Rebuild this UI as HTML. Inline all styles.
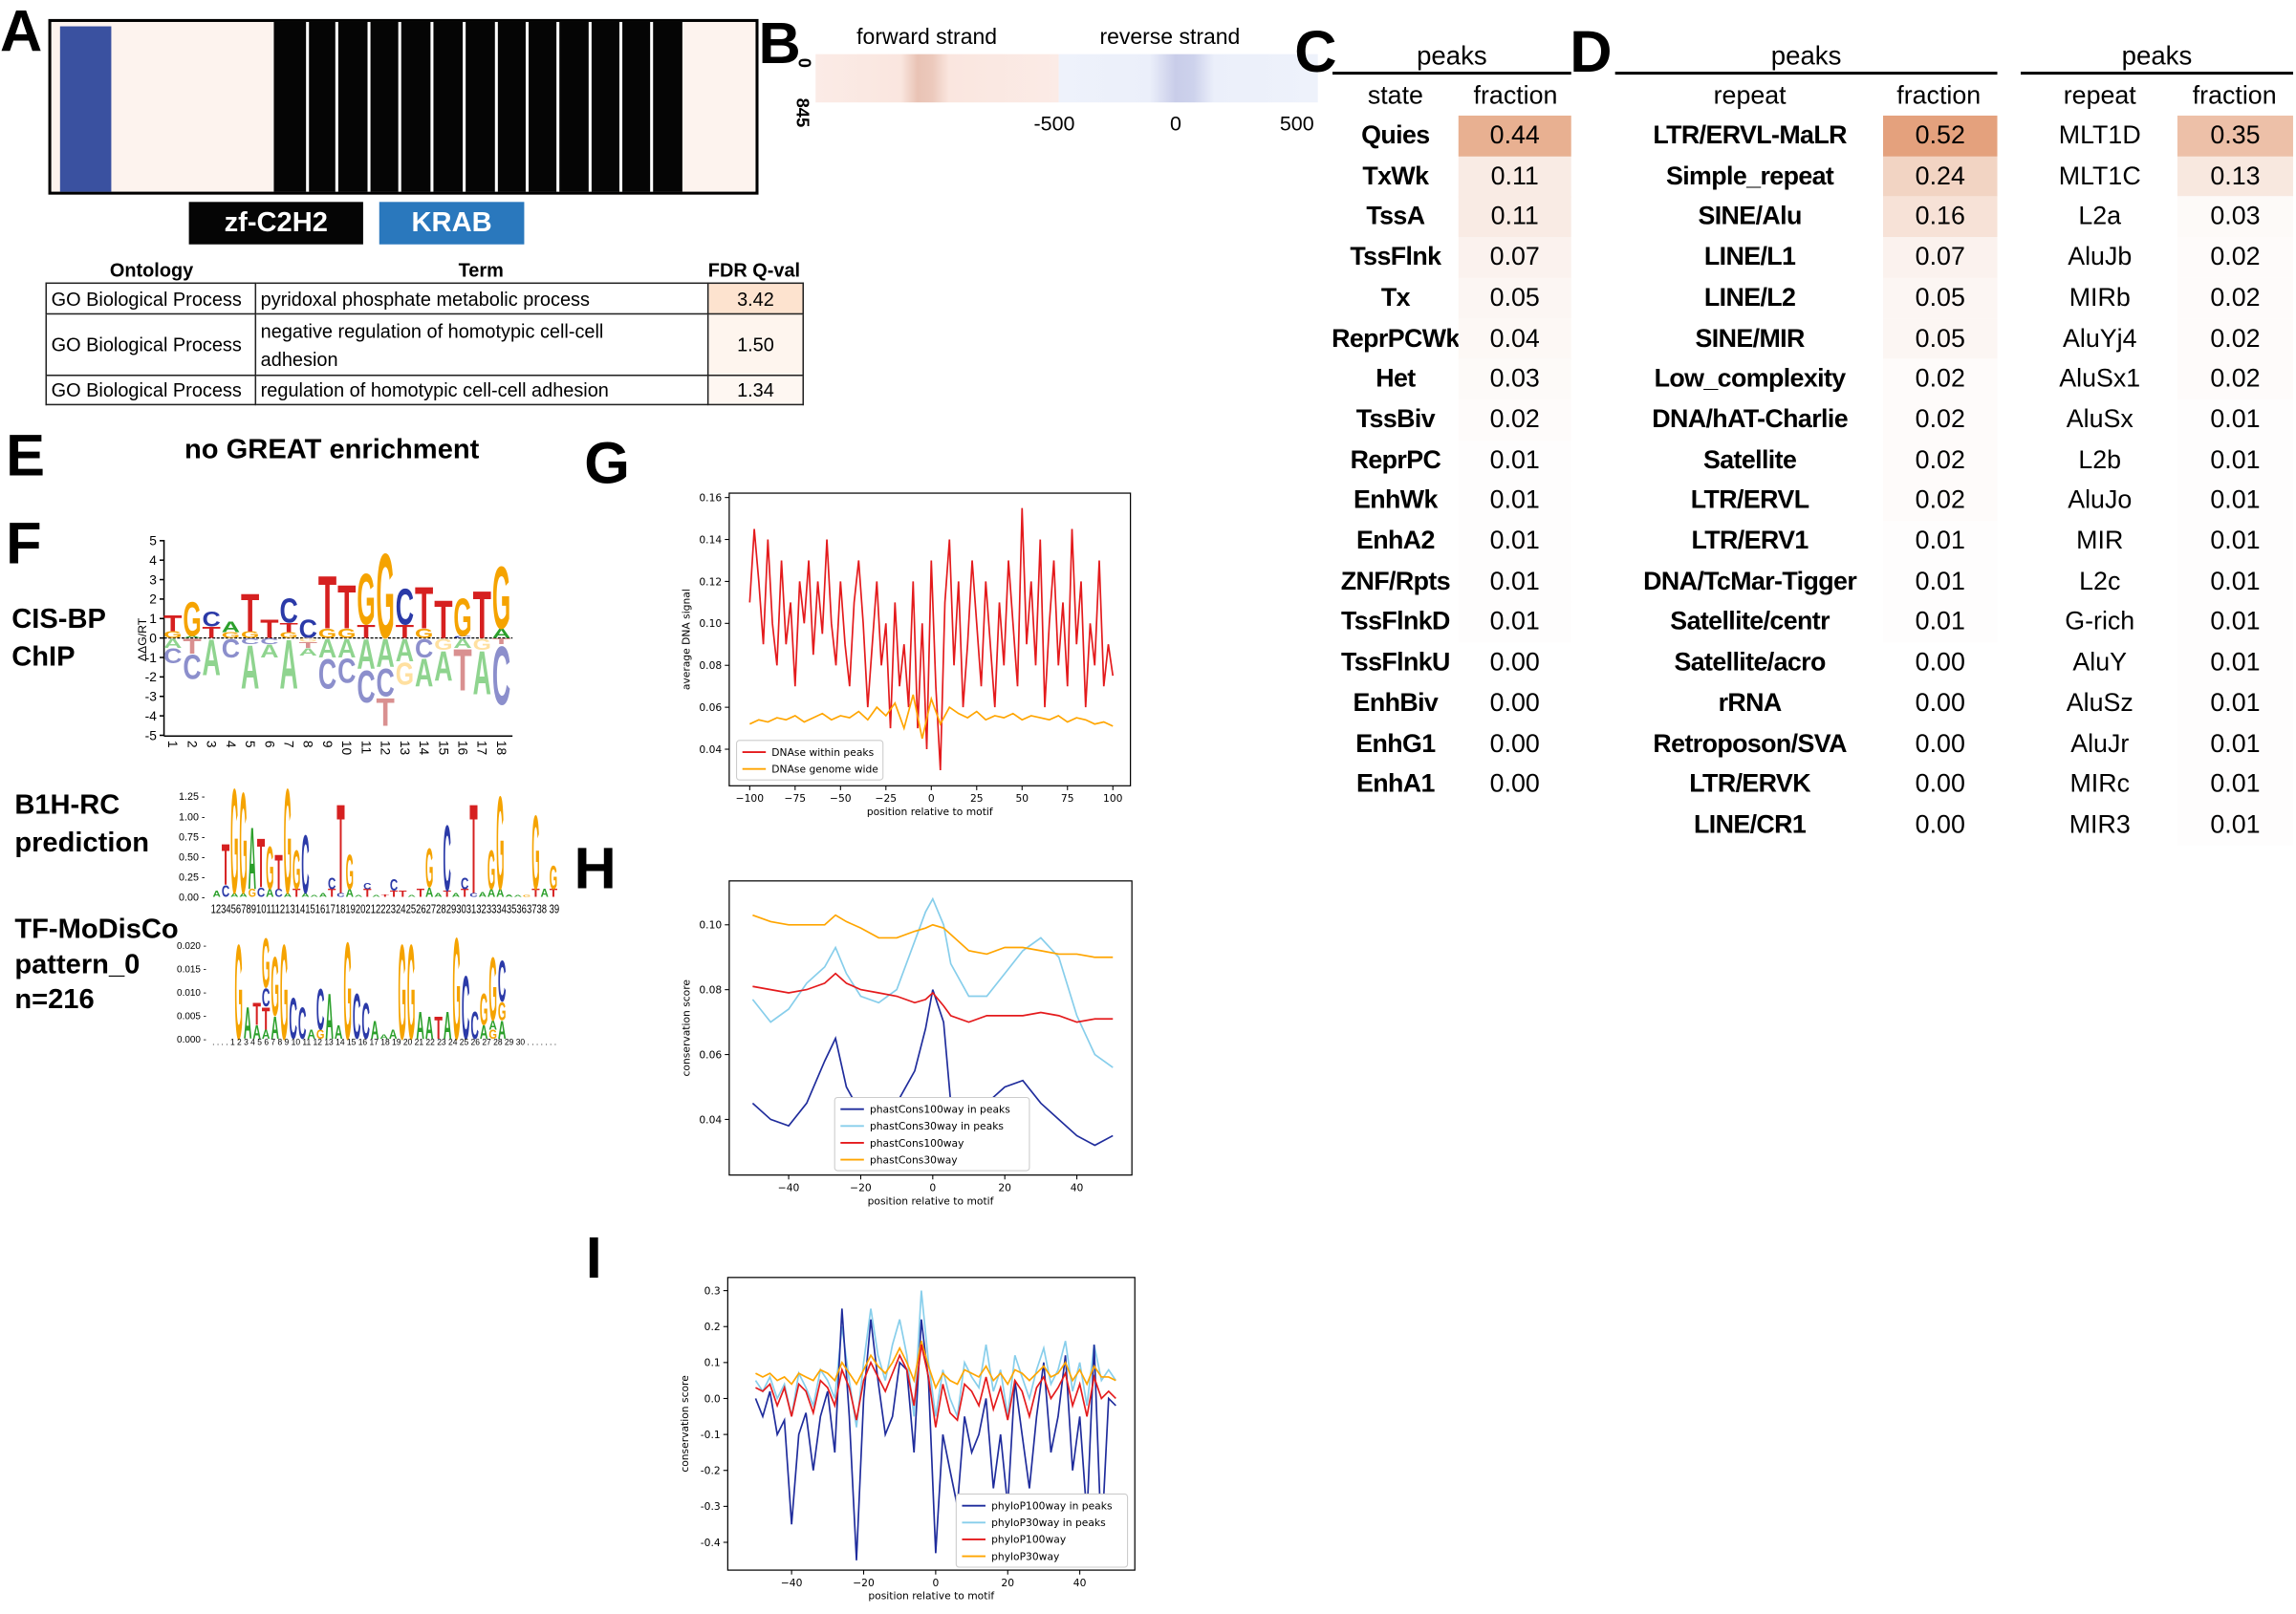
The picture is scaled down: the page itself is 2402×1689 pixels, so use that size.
<!DOCTYPE html>
<html><head><meta charset="utf-8">
<style>
html,body{margin:0;padding:0;background:#fff;}
body{width:2402px;height:1689px;overflow:hidden;position:relative;}
#stage{position:absolute;left:0;top:0;width:1568px;height:1103px;transform:scale(1.5319,1.5313);transform-origin:0 0;font-family:"Liberation Sans",sans-serif;color:#000;}
.abs{position:absolute;}
.plab{position:absolute;font-weight:bold;font-size:40px;line-height:40px;}
.b{font-weight:bold;}
.cell{position:absolute;text-align:center;font-size:17.5px;line-height:27px;height:27px;white-space:nowrap;}
table.go{position:absolute;left:31px;top:193px;border-collapse:collapse;font-size:13px;}
table.go td{border:1.5px solid #222;padding:0 3px;line-height:19px;}
</style></head>
<body>
<div id="stage">

<!-- Panel A -->
<div class="plab" style="left:0;top:2px;">A</div>
<div class="abs" style="left:33px;top:13px;width:481px;height:116px;border:2px solid #000;background:#fdf3ee;">
  <div class="abs" style="left:6px;top:3px;width:35px;height:113px;background:#3a51a0;"></div>
  <div id="zfbox" class="abs" style="left:152px;top:0;width:279px;height:116px;background:#050505;"></div>
</div>
<div class="abs b" style="left:129px;top:138px;width:119px;height:29px;background:#050505;color:#fff;font-size:19px;line-height:29px;text-align:center;">zf-C2H2</div>
<div class="abs b" style="left:259px;top:138px;width:99px;height:29px;background:#2a78bd;color:#fff;font-size:19px;line-height:29px;text-align:center;">KRAB</div>
<div class="abs b" style="left:31px;top:177px;width:145px;text-align:center;font-size:13px;">Ontology</div>
<div class="abs b" style="left:175px;top:177px;width:307px;text-align:center;font-size:13px;">Term</div>
<div class="abs b" style="left:482px;top:177px;width:66px;text-align:center;font-size:13px;">FDR Q-val</div>
<table class="go">
<tr style="height:21px"><td style="width:136px">GO Biological Process</td><td style="width:302px">pyridoxal phosphate metabolic process</td><td style="width:58px;text-align:center;background:#fde3cf">3.42</td></tr>
<tr style="height:42px"><td>GO Biological Process</td><td>negative regulation of homotypic cell-cell<br>adhesion</td><td style="text-align:center;background:#fef5ee">1.50</td></tr>
<tr style="height:20px"><td>GO Biological Process</td><td>regulation of homotypic cell-cell adhesion</td><td style="text-align:center;background:#fef7f2">1.34</td></tr>
</table>

<!-- Panel B -->
<div class="plab" style="left:518px;top:10px;">B</div>
<div class="abs" style="left:585px;top:17px;font-size:15px;">forward strand</div>
<div class="abs" style="left:751px;top:17px;font-size:15px;">reverse strand</div>
<div class="abs" style="left:557px;top:37px;width:166px;height:33px;background:linear-gradient(90deg,#fbebe6 0%,#fae6df 35%,#e9c3b5 42%,#ecc9bc 48%,#fae6df 55%,#fbebe6 100%);"></div>
<div class="abs" style="left:723px;top:37px;width:177px;height:33px;background:linear-gradient(90deg,#eef2fb 0%,#ebeffa 35%,#c9cde9 45%,#cdd2ec 52%,#ebeffa 60%,#eef2fb 100%);"></div>
<div class="abs b" style="left:546px;top:36px;font-size:12px;transform:rotate(90deg);">0</div>
<div class="abs b" style="left:538px;top:70px;font-size:12px;transform:rotate(90deg);">845</div>
<div class="abs" style="left:706px;top:76px;font-size:14px;">-500</div>
<div class="abs" style="left:799px;top:76px;font-size:14px;">0</div>
<div class="abs" style="left:874px;top:76px;font-size:14px;">500</div>

<!-- Panel C / D -->
<div class="plab" style="left:884px;top:16px;">C</div>
<div class="plab" style="left:1072px;top:16px;">D</div>
<div id="tables"></div>

<!-- Panel E -->
<div class="plab" style="left:4px;top:292px;">E</div>
<div class="abs b" style="left:126px;top:297px;font-size:19px;">no GREAT enrichment</div>

<!-- Panel F -->
<div class="plab" style="left:4px;top:352px;">F</div>
<div class="abs b" style="left:8px;top:411px;font-size:19px;line-height:26px;">CIS-BP<br>ChIP</div>
<div class="abs b" style="left:10px;top:538px;font-size:19px;line-height:26px;">B1H-RC<br>prediction</div>
<div class="abs b" style="left:10px;top:624px;font-size:19px;line-height:24px;">TF-MoDisCo<br>pattern_0<br>n=216</div>
<svg id="logos" class="abs" style="left:0;top:0" width="600" height="740"></svg>

<!-- Panels G H I -->
<div class="plab" style="left:399px;top:297px;">G</div>
<div class="plab" style="left:392px;top:574px;">H</div>
<div class="plab" style="left:400px;top:840px;">I</div>
<svg id="charts" class="abs" style="left:0;top:0" width="1568" height="1103"></svg>
</div>

<script>
// ---------- Panel C/D table data ----------
const cStates=["Quies","TxWk","TssA","TssFlnk","Tx","ReprPCWk","Het","TssBiv","ReprPC","EnhWk","EnhA2","ZNF/Rpts","TssFlnkD","TssFlnkU","EnhBiv","EnhG1","EnhA1"];
const cFrac=[0.44,0.11,0.11,0.07,0.05,0.04,0.03,0.02,0.01,0.01,0.01,0.01,0.01,0.00,0.00,0.00,0.00];
const dRepeats1=["LTR/ERVL-MaLR","Simple_repeat","SINE/Alu","LINE/L1","LINE/L2","SINE/MIR","Low_complexity","DNA/hAT-Charlie","Satellite","LTR/ERVL","LTR/ERV1","DNA/TcMar-Tigger","Satellite/centr","Satellite/acro","rRNA","Retroposon/SVA","LTR/ERVK","LINE/CR1"];
const dFrac1=[0.52,0.24,0.16,0.07,0.05,0.05,0.02,0.02,0.02,0.02,0.01,0.01,0.01,0.00,0.00,0.00,0.00,0.00];
const dRepeats2=["MLT1D","MLT1C","L2a","AluJb","MIRb","AluYj4","AluSx1","AluSx","L2b","AluJo","MIR","L2c","G-rich","AluY","AluSz","AluJr","MIRc","MIR3"];
const dFrac2=[0.35,0.13,0.03,0.02,0.02,0.02,0.02,0.01,0.01,0.01,0.01,0.01,0.01,0.01,0.01,0.01,0.01,0.01];

function heat(v){const t=Math.min(v/0.55,1);const r=Math.round(255-(255-226)*t),g=Math.round(255-(255-156)*t),b=Math.round(255-(255-118)*t);return `rgb(${r},${g},${b})`;}
const T=document.getElementById('tables');
function mkTable(names,vals,lineX0,lineX1,nameCx,valCx,cellX0,cellX1,nameBold,colHead,tag){
  const peaks=document.createElement('div');peaks.className='abs';
  peaks.style.cssText=`left:${lineX0}px;top:27px;width:${lineX1-lineX0}px;text-align:center;font-size:18px;border-bottom:2px solid #000;height:22px;line-height:22px;`;
  peaks.textContent='peaks';
  
  
  T.appendChild(peaks);
  [[colHead,nameCx],['fraction',valCx]].forEach(([txt,cx])=>{const h=document.createElement('div');h.className='cell';h.style.left=(cx-70)+'px';h.style.width='140px';h.style.top='52px';h.textContent=txt;
    
    
    T.appendChild(h);});
  names.forEach((n,i)=>{const y=79+i*27.7;
    const a=document.createElement('div');a.className='cell';a.style.left=(nameCx-90)+'px';a.style.width='180px';a.style.top=y+'px';a.style.fontWeight=nameBold?'bold':'normal';a.style.letterSpacing=nameBold?'-0.4px':'0';a.textContent=n;
    
    
    T.appendChild(a);
    const c=document.createElement('div');c.className='cell';c.style.left=cellX0+'px';c.style.width=(cellX1-cellX0)+'px';c.style.top=y+'px';c.style.height='28px';c.style.background=heat(vals[i]);c.textContent=vals[i].toFixed(2);
    
    
    T.appendChild(c);});
}
mkTable(cStates,cFrac,910,1073,953,1035,996,1073,true,'state','chromatin-state');
mkTable(dRepeats1,dFrac1,1103,1364,1195,1324,1286,1364,true,'repeat','repeat-family');
mkTable(dRepeats2,dFrac2,1380,1566,1434,1526,1487,1566,false,'repeat','repeat-subfamily');

// zf lines
const zfLines=[209,229,251,272,294,316,338,359,380,402,423,444];
const zb=document.getElementById('zfbox');
zfLines.forEach(x=>{const l=document.createElement('div');l.className='abs';l.style.cssText=`left:${x-187}px;top:0;width:2px;height:116px;background:#fff;`;
 
 
 zb.appendChild(l);});

// ---------- logos ----------
const NS='http://www.w3.org/2000/svg';
const COL={A:'#2ca02c',C:'#2b3aa8',G:'#f5a300',T:'#d62020'};
const COLL={A:'#8fd48f',C:'#8c8fcc',G:'#ffe0a0',T:'#d99090'};
const cisTop=[[['G',.35],['T',.85]],[['A',.1],['G',1.8]],[['T',.6],['C',.8]],[['G',.3],['A',.55]],[['G',.35],['T',2.0]],[['T',1.0]],[['G',.3],['T',.5],['C',1.3]],[['C',1.0]],[['G',.5],['T',2.8]],[['G',.5],['T',2.3]],[['T',.7],['G',2.7]],[['G',4.5]],[['T',.7],['C',1.9]],[['G',.5],['T',2.2]],[['T',2.0]],[['C',.1],['G',2.0]],[['T',2.5]],[['A',.5],['G',3.3]]];
const cisBot=[[['A',.5],['C',.8]],[['T',.8],['C',1.3]],[['A',1.9]],[['C',1.0]],[['C',.3],['A',2.3]],[['C',.3],['A',.7]],[['A',2.6]],[['G',.2],['T',.3],['A',.4]],[['A',1.0],['C',1.6]],[['A',1.0],['C',1.3]],[['A',1.6],['C',1.7]],[['A',1.5],['C',1.5],['T',1.5]],[['A',1.2],['G',1.2]],[['C',1.0],['A',1.5]],[['G',.6],['A',1.6]],[['A',.5],['T',2.2]],[['G',.6],['A',2.3]],[['T',.3],['C',3.1]]];
const b1h=[[['A',.08]],[['C',.15],['T',.53]],[['A',.05],['G',1.35]],[['A',.05],['G',1.3]],[['G',.1],['A',.8]],[['C',.12],['T',.63]],[['A',.1],['G',.55]],[['C',.1],['T',.45]],[['A',.05],['G',1.35]],[['T',.1],['G',.5]],[['A',.05],['C',.75]],[['A',.02]],[['A',.05]],[['T',.1],['C',.15]],[['C',.05],['T',1.15]],[['A',.1],['G',.45]],[['A',.02]],[['T',.1],['C',.08]],[['A',.02]],[['T',.03]],[['T',.08],['C',.15]],[['T',.08]],[['A',.02]],[['T',.1]],[['A',.12],['G',.5]],[['A',.05]],[['T',.08],['C',.85]],[['A',.05]],[['T',.1],['C',.15]],[['C',.05],['T',1.15]],[['A',.06]],[['A',.1],['G',.5]],[['A',.1],['G',1.2]],[['A',.03]],[['A',.02]],[['G',.02]],[['T',.1],['G',.95]],[['A',.1]],[['T',.1],['G',.3]]];
const modisco=[[['G',21]],[['A',7]],[['A',3],['T',5]],[['A',2],['T',5],['C',4],['G',11]],[['A',5],['G',13]],[['G',21]],[['C',9]],[['C',7]],[['A',2]],[['G',2],['C',9]],[['A',10]],[['A',3]],[['G',21.5]],[['C',10]],[['C',8]],[['A',4]],[['A',1]],[['A',2]],[['G',21]],[['G',21]],[['A',6]],[['A',5]],[['T',5]],[['A',6]],[['G',22.5]],[['C',14]],[['C',6]],[['A',3],['G',7]],[['G',2],['A',2],['G',14]],[['A',4],['G',4],['C',9]]];

const L=document.getElementById('logos');
function el(tag,attrs,parent,txt){const e=document.createElementNS(NS,tag);for(const k in attrs)e.setAttribute(k,attrs[k]);if(txt!==undefined)e.textContent=txt;(parent||L).appendChild(e);return e;}
function letter(ch,x,yBase,w,h,col,parent){
  if(h<0.6)return;
  const t=el('text',{x:0,y:0,'font-size':10,'font-weight':'bold','font-family':'Liberation Sans, sans-serif',fill:col,textLength:w,lengthAdjust:'spacingAndGlyphs',transform:`translate(${x},${yBase}) scale(1,${h/7.25})`},parent,ch);
  
  
}
function drawLogo(cols,x0,step,base,unit,down,light){
  cols.forEach((st,i)=>{let y=base;const x=x0+i*step-step/2+0.3;
    st.forEach(([ch,h])=>{const ph=h*unit;
      if(!down){letter(ch,x,y,step-0.6,ph,light?COLL[ch]:COL[ch]);y-=ph;}
      else{letter(ch,x,y+ph,step-0.6,ph,COLL[ch]);y+=ph;}});});
}
function axisV(x,y0,y1,ticks,fmt,fs){el('line',{x1:x,y1:y0,x2:x,y2:y1,stroke:'#000','stroke-width':1});ticks.forEach(([v,y])=>{el('line',{x1:x-3,y1:y,x2:x,y2:y,stroke:'#000','stroke-width':1});el('text',{x:x-5,y:y+fs*0.35,'font-size':fs,'text-anchor':'end','font-family':'Liberation Sans, sans-serif'},L,fmt(v));});}
// CIS-BP
const cisBase=436,cisUnit=13.3;
axisV(112,369,503,[5,4,3,2,1,0,-1,-2,-3,-4,-5].map(v=>[v,cisBase-v*cisUnit]),v=>v,9);
el('line',{x1:112,y1:503,x2:350,y2:503,stroke:'#000','stroke-width':1});
el('line',{x1:112,y1:cisBase,x2:350,y2:cisBase,stroke:'#000','stroke-width':0.8,'stroke-dasharray':'2,1'});
drawLogo(cisTop,118,13.2,cisBase,cisUnit,false,false);
drawLogo(cisBot,118,13.2,cisBase,cisUnit,true,true);
cisTop.forEach((c,i)=>{el('text',{x:0,y:0,'font-size':9,'font-family':'Liberation Sans, sans-serif',transform:`translate(${118+i*13.2-3},506) rotate(90)`},L,String(i+1));});
el('text',{x:0,y:0,'font-size':8,'font-family':'Liberation Sans, sans-serif',transform:'translate(100,452) rotate(-90)'},L,'ΔΔG/RT');
// B1H
const b1Base=613,b1Unit=55;
[0,0.25,0.5,0.75,1.0,1.25].forEach(v=>{const y=b1Base-v*b1Unit;el('text',{x:140,y:y+2.5,'font-size':7,'text-anchor':'end','font-family':'Liberation Sans, sans-serif'},L,v.toFixed(2)+' -');});
drawLogo(b1h,148,6.05,b1Base,b1Unit,false,false);
el('text',{x:144,y:624,'font-size':8.2,'font-family':'Liberation Sans, sans-serif',textLength:238,lengthAdjust:'spacingAndGlyphs'},L,'1234567891011121314151617181920212223242526272829303132333435363738 39');
// MoDisCo
const mdBase=710,mdUnit=3.2;
[0,0.005,0.010,0.015,0.020].forEach(v=>{const y=mdBase-v*1000*mdUnit;el('text',{x:141,y:y+2.5,'font-size':6.5,'text-anchor':'end','font-family':'Liberation Sans, sans-serif'},L,v.toFixed(3)+' -');});
drawLogo(modisco,163,6.2,mdBase,mdUnit,false,false);
el('text',{x:145,y:714,'font-size':6,'font-family':'Liberation Sans, sans-serif',textLength:235,lengthAdjust:'spacingAndGlyphs'},L,'. . . . 1 2 3 4 5 6 7 8 9 10 11 12 13 14 15 16 17 18 19 20 21 22 23 24 25 26 27 28 29 30 . . . . . . .');

// ---------- Line chart data ----------
const gRed=[0.11,0.145,0.12,0.09,0.14,0.10,0.08,0.13,0.09,0.11,0.07,0.12,0.10,0.13,0.085,0.12,0.095,0.14,0.10,0.08,0.12,0.09,0.07,0.11,0.13,0.10,0.06,0.09,0.12,0.08,0.10,0.05,0.11,0.07,0.09,0.06,0.12,0.05,0.10,0.04,0.13,0.07,0.03,0.11,0.14,0.08,0.12,0.06,0.09,0.13,0.10,0.07,0.12,0.09,0.06,0.11,0.08,0.13,0.10,0.07,0.155,0.09,0.12,0.08,0.14,0.06,0.10,0.13,0.08,0.11,0.07,0.145,0.09,0.12,0.06,0.10,0.08,0.13,0.07,0.09,0.075];
const gOrange=[0.052,0.054,0.053,0.055,0.054,0.056,0.053,0.055,0.057,0.054,0.056,0.055,0.058,0.054,0.060,0.056,0.062,0.050,0.066,0.045,0.064,0.052,0.060,0.057,0.055,0.058,0.054,0.056,0.055,0.057,0.054,0.056,0.055,0.054,0.056,0.053,0.055,0.054,0.052,0.053,0.051];
const gTicksY=[0.04,0.06,0.08,0.10,0.12,0.14,0.16];
const gTicksX=[-100,-75,-50,-25,0,25,50,75,100];

const hX=[-50,-45,-40,-35,-30,-27,-24,-20,-15,-10,-5,-2,0,3,5,10,15,20,25,30,35,40,45,50];
const hDark=[0.045,0.040,0.038,0.045,0.058,0.065,0.050,0.042,0.040,0.045,0.055,0.068,0.080,0.070,0.045,0.042,0.045,0.050,0.052,0.045,0.040,0.035,0.032,0.035];
const hLight=[0.077,0.070,0.074,0.082,0.087,0.093,0.085,0.078,0.076,0.080,0.095,0.104,0.108,0.100,0.088,0.078,0.078,0.085,0.092,0.096,0.090,0.072,0.060,0.056];
const hRed=[0.081,0.080,0.079,0.080,0.082,0.085,0.082,0.080,0.079,0.078,0.076,0.077,0.079,0.075,0.072,0.070,0.072,0.072,0.072,0.073,0.072,0.070,0.071,0.071];
const hOrange=[0.103,0.101,0.100,0.100,0.100,0.103,0.101,0.099,0.096,0.096,0.098,0.099,0.100,0.099,0.097,0.092,0.091,0.093,0.093,0.092,0.091,0.091,0.090,0.090];
const hTicksY=[0.04,0.06,0.08,0.10];
const hTicksX=[-40,-20,0,20,40];

const iDark=[0.0,-0.05,0.02,-0.10,-0.06,-0.35,-0.10,-0.04,-0.20,-0.05,0.02,-0.15,0.25,-0.05,-0.45,0.0,0.22,0.05,-0.10,-0.05,0.10,0.08,-0.15,0.22,0.05,-0.43,-0.10,-0.20,-0.30,-0.05,-0.15,-0.10,0.0,-0.25,-0.10,-0.30,0.05,-0.10,-0.25,-0.05,0.10,-0.15,-0.05,0.12,-0.20,-0.05,-0.33,0.15,-0.40,0.00,-0.02];
const iLight=[0.05,0.02,0.06,0.0,0.04,-0.05,0.07,0.03,-0.02,0.08,0.05,0.0,0.20,0.05,-0.08,0.10,0.25,0.12,0.05,0.15,0.22,0.12,-0.05,0.30,0.10,-0.05,0.08,0.0,-0.05,0.10,0.06,0.03,0.15,0.02,0.08,-0.05,0.12,0.06,0.0,0.08,0.14,0.04,0.08,0.16,0.02,0.10,-0.02,0.15,0.05,0.08,0.05];
const iRed=[0.03,0.02,0.04,-0.02,0.03,-0.05,0.04,0.02,-0.04,0.05,0.03,-0.02,0.08,0.03,-0.06,0.05,0.10,0.06,0.02,0.07,0.12,0.08,-0.02,0.15,0.06,-0.08,0.04,-0.04,-0.06,0.04,0.02,-0.02,0.06,-0.03,0.03,-0.06,0.05,0.02,-0.05,0.03,0.06,0.0,0.03,0.07,-0.02,0.04,-0.05,0.06,0.0,0.02,0.0];
const iOrange=[0.07,0.06,0.07,0.05,0.06,0.04,0.07,0.06,0.05,0.08,0.07,0.05,0.10,0.07,0.04,0.08,0.12,0.09,0.07,0.10,0.14,0.10,0.05,0.16,0.09,0.03,0.07,0.05,0.04,0.08,0.07,0.06,0.09,0.05,0.07,0.04,0.08,0.07,0.05,0.07,0.09,0.06,0.07,0.10,0.05,0.08,0.04,0.09,0.06,0.06,0.05];
const iTicksY=[-0.4,-0.3,-0.2,-0.1,0.0,0.1,0.2,0.3];
const iTicksX=[-40,-20,0,20,40];

const C=document.getElementById('charts');
function ce(tag,attrs,txt){const e=document.createElementNS(NS,tag);for(const k in attrs)e.setAttribute(k,attrs[k]);if(txt!==undefined)e.textContent=txt;C.appendChild(e);return e;}
function chart(cfg){
  const {box,xs,ys,ticksX,ticksY,fmtY,ylab,series,legend,name,drawOrder}=cfg;
  const X=v=>xs[2]+(v-xs[0])/(xs[1]-xs[0])*(xs[3]-xs[2]);
  const Y=v=>ys[2]+(v-ys[0])/(ys[1]-ys[0])*(ys[3]-ys[2]);
  const r=ce('rect',{x:box[0],y:box[1],width:box[2]-box[0],height:box[3]-box[1],fill:'none',stroke:'#000','stroke-width':0.8});
  
  
  ticksY.forEach(v=>{const y=Y(v);ce('line',{x1:box[0]-3,y1:y,x2:box[0],y2:y,stroke:'#000','stroke-width':0.7});
    const t=ce('text',{x:box[0]-5,y:y+2.5,'font-size':7,'text-anchor':'end','font-family':'DejaVu Sans, sans-serif'},fmtY(v));
    
    });
  ticksX.forEach(v=>{const x=X(v);ce('line',{x1:x,y1:box[3],x2:x,y2:box[3]+3,stroke:'#000','stroke-width':0.7});
    const t=ce('text',{x:x,y:box[3]+11,'font-size':7,'text-anchor':'middle','font-family':'DejaVu Sans, sans-serif'},v<0?'\u2212'+(-v):String(v));
    
    });
  const xl=ce('text',{x:(box[0]+box[2])/2,y:box[3]+20,'font-size':7,'text-anchor':'middle','font-family':'DejaVu Sans, sans-serif'},'position relative to motif');
  
  
  const yl=ce('text',{x:0,y:0,'font-size':7,'text-anchor':'middle','font-family':'DejaVu Sans, sans-serif',transform:`translate(${box[0]-27},${(box[1]+box[3])/2}) rotate(-90)`},ylab);
  
  
  const order=drawOrder||series.map((s,i)=>i);
  order.forEach(k=>{const s=series[k];const n=s.vals.length;const pts=s.vals.map((v,i)=>{const xv=s.x?s.x[i]:xs[0]+i*(xs[1]-xs[0])/(n-1);return X(xv).toFixed(1)+','+Y(v).toFixed(1);}).join(' ');
    const p=ce('polyline',{points:pts,fill:'none',stroke:s.color,'stroke-width':1.1});
    
    });
  const lg=ce('rect',{x:legend[0],y:legend[1],width:legend[2],height:series.length*11.5+4,fill:'#fff',stroke:'#ccc','stroke-width':0.7,rx:2});
  
  
  series.forEach((s,i)=>{const y=legend[1]+8+i*11.5;
    ce('line',{x1:legend[0]+4,y1:y,x2:legend[0]+20,y2:y,stroke:s.color,'stroke-width':1.2});
    const t=ce('text',{x:legend[0]+24,y:y+2.5,'font-size':7,'font-family':'DejaVu Sans, sans-serif'},s.label);
    
    });
}
chart({name:'dnase-chart',box:[498,337,772,537],xs:[-100,100,512,760],ys:[0.04,0.16,512,340],ticksX:gTicksX,ticksY:gTicksY,fmtY:v=>v.toFixed(2),ylab:'average DNA signal',
  series:[{vals:gRed,color:'#e41a1c',name:'dnase-within-peaks-line',label:'DNAse within peaks'},{vals:gOrange,color:'#ffa500',name:'dnase-genome-wide-line',label:'DNAse genome wide'}],legend:[503,506,100]});
chart({name:'phastcons-chart',box:[498,602,773,803],xs:[-50,50,514,760],ys:[0.04,0.10,765,632],ticksX:hTicksX,ticksY:hTicksY,fmtY:v=>v.toFixed(2),ylab:'conservation score',
  series:[{x:hX,vals:hDark,color:'#1f2c9c',name:'phastcons100-peaks-line',label:'phastCons100way in peaks'},{x:hX,vals:hLight,color:'#87ceeb',name:'phastcons30-peaks-line',label:'phastCons30way in peaks'},{x:hX,vals:hRed,color:'#e41a1c',name:'phastcons100-line',label:'phastCons100way'},{x:hX,vals:hOrange,color:'#ffa500',name:'phastcons30-line',label:'phastCons30way'}],legend:[570,750,133]});
chart({name:'phylop-chart',box:[497,873,775,1073],xs:[-50,50,516,762],ys:[-0.4,0.3,1054,882],ticksX:iTicksX,ticksY:iTicksY,fmtY:v=>v.toFixed(1),ylab:'conservation score',drawOrder:[1,0,3,2],
  series:[{vals:iDark,color:'#1f2c9c',name:'phylop100-peaks-line',label:'phyloP100way in peaks'},{vals:iLight,color:'#87ceeb',name:'phylop30-peaks-line',label:'phyloP30way in peaks'},{vals:iRed,color:'#e41a1c',name:'phylop100-line',label:'phyloP100way'},{vals:iOrange,color:'#ffa500',name:'phylop30-line',label:'phyloP30way'}],legend:[653,1021,117]});
</script>
</body></html>
